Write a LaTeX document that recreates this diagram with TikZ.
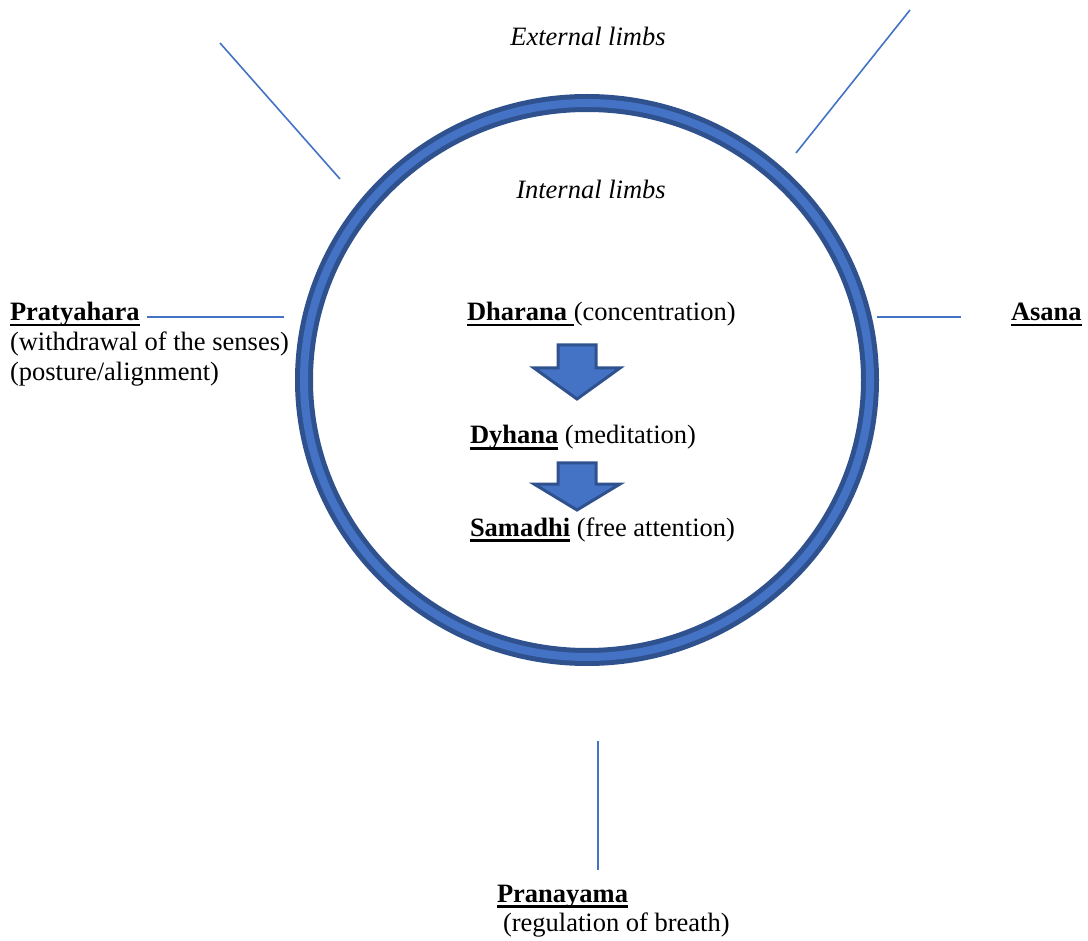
\documentclass[tikz,border=0pt]{standalone}
\usepackage{fontspec}
\setmainfont{Liberation Serif}
\definecolor{ringdark}{HTML}{2F528F}
\definecolor{ringlight}{HTML}{4472C4}
\definecolor{linecol}{HTML}{4472C4}
\newcommand\ulbox[1]{\setbox0\hbox{#1}\rlap{\rule[-5.5pt]{\wd0}{2.8pt}}\box0\relax}
\begin{document}
\begin{tikzpicture}[x=1pt,y=-1pt,
  txt/.style={inner sep=0pt,outer sep=0pt,anchor=base west,font=\fontsize{26.5}{30}\selectfont},
  itxt/.style={inner sep=0pt,anchor=base,font=\fontsize{26.5}{30}\selectfont\itshape},
  limbline/.style={draw=linecol,line width=1.6pt},
  blockarrow/.style={draw=ringdark,line width=3pt,fill=ringlight,line join=miter}]
\useasboundingbox[fill=white] (0,0) rectangle (1088,941);
% ring
\draw[ringdark,line width=18pt] (587,380) ellipse [x radius=283, y radius=277];
\draw[ringlight,line width=8pt] (587,380) ellipse [x radius=283, y radius=277];
% labels
\node[itxt] (ext) at (588,46) {External limbs};
\node[itxt] (int) at (591,199) {Internal limbs};
\node[txt] (dha) at (467,321) {\ulbox{\bfseries Dharana }(concentration)};
\node[txt] (dhy) at (470,444) {\ulbox{\bfseries Dyhana} (meditation)};
\node[txt] (sam) at (470,536) {\ulbox{\bfseries Samadhi} (free attention)};
% multi-line nodes: base anchor is the last line's baseline
\node[txt,align=left] (pra) at (10,381) {\ulbox{\bfseries Pratyahara}\\(withdrawal of the senses)\\(posture/alignment)};
\node[txt] (asa) at (1011,321) {\ulbox{\bfseries Asana}};
\node[txt,align=left,font=\fontsize{26.5}{28.5}\selectfont] (prn) at (497,931) {\ulbox{\bfseries Pranayama}\\\hspace*{6pt}(regulation of breath)};
% block arrows
\draw[blockarrow] (558,345) -- (596,345) -- (596,368) -- (620,368) -- (577,399) -- (534,368) -- (558,368) -- cycle;
\draw[blockarrow] (558,463) -- (596,463) -- (596,484) -- (620,484) -- (577,510) -- (534,484) -- (558,484) -- cycle;
% limb lines
\coordinate (ulA) at (220,43); \coordinate (ulB) at (340,179);
\coordinate (urA) at (910,10); \coordinate (urB) at (796,153);
\coordinate (lA) at (147,317); \coordinate (lB) at (284,317);
\coordinate (rA) at (877,317); \coordinate (rB) at (961,317);
\coordinate (bA) at (598,741); \coordinate (bB) at (598,870);
\draw[limbline] (ulA) -- (ulB);
\draw[limbline] (urA) -- (urB);
\draw[limbline] (lA) -- (lB);
\draw[limbline] (rA) -- (rB);
\draw[limbline] (bA) -- (bB);
\end{tikzpicture}
\end{document}
